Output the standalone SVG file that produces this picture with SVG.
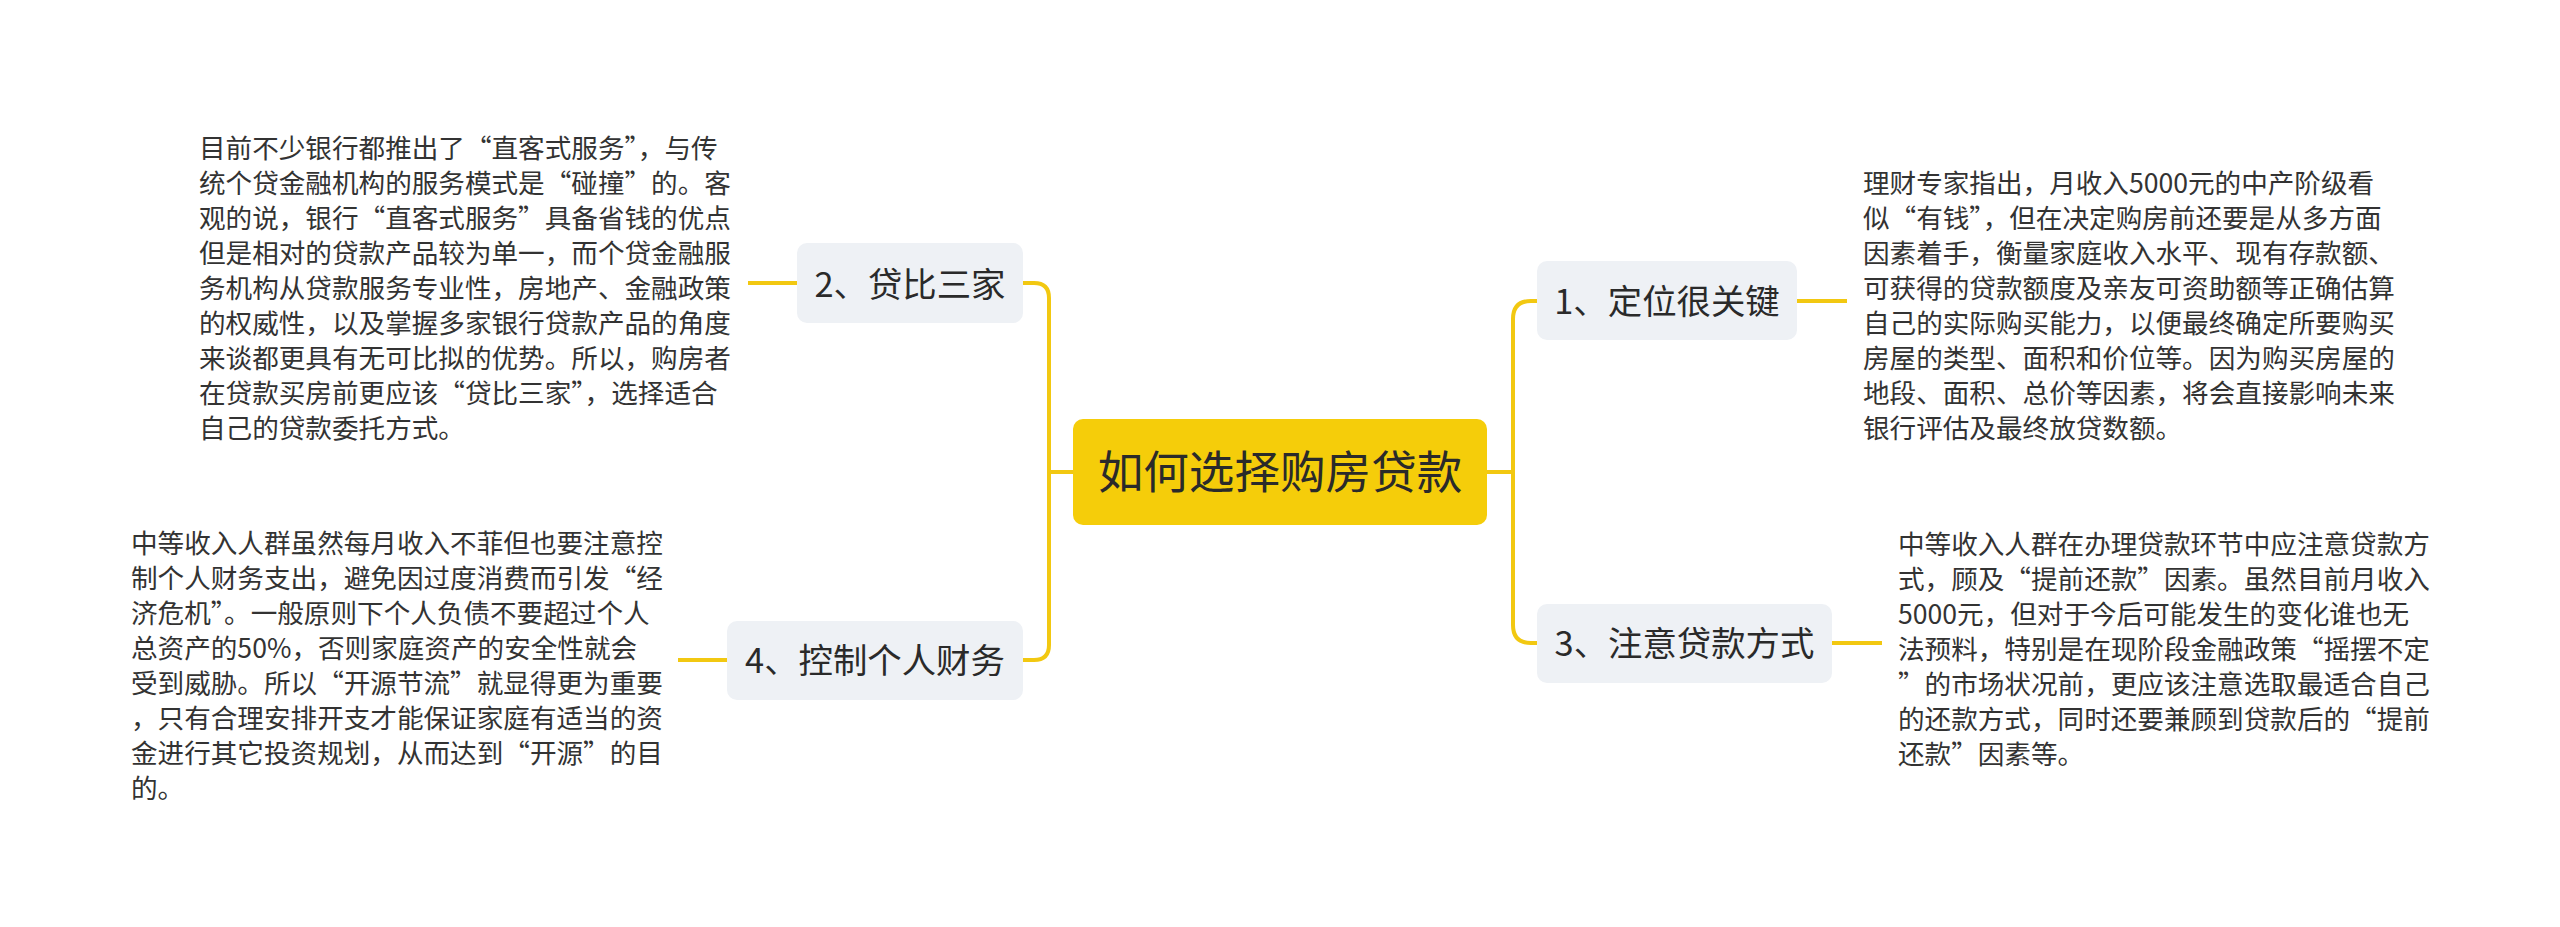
<svg xmlns="http://www.w3.org/2000/svg" width="2560" height="927" viewBox="0 0 2560 927">
<style>
.t{font-family:"Noto Sans CJK SC","Noto Sans",sans-serif;fill:#333333;font-size:26.6px}
.lbl{font-family:"Noto Sans CJK SC","Noto Sans",sans-serif;fill:#2a2a2a;font-size:34.4px;text-anchor:middle}
.ctr{font-family:"Noto Sans CJK SC","Noto Sans",sans-serif;fill:#2a2a2a;font-size:45.6px;text-anchor:middle}
.node{fill:#EEF1F5}
.root{fill:#F5CD0A}
.con{fill:none;stroke:#F2C811;stroke-width:4;stroke-linecap:butt}
</style>
<rect width="2560" height="927" fill="#ffffff"/>
<g id="connectors">
<path class="con" d="M1073,472 H1049"/>
<path class="con" d="M1023,283 H1034 Q1049,283 1049,298 V645 Q1049,660 1034,660 H1023"/>
<path class="con" d="M797,283 H748"/>
<path class="con" d="M727,660 H678"/>
<path class="con" d="M1487,472 H1513"/>
<path class="con" d="M1537,301 H1531 Q1513,301 1513,319 V625 Q1513,643 1531,643 H1537"/>
<path class="con" d="M1797,301 H1847"/>
<path class="con" d="M1832,643 H1882"/>
</g>
<g id="root">
<rect class="root" x="1073" y="419" width="414" height="106" rx="10"/>
<text class="ctr" x="1280" y="488.6">如何选择购房贷款</text>
</g>
<g id="node1">
<rect class="node" x="1537" y="261" width="260" height="79" rx="10"/>
<text class="lbl" x="1667" y="313.5">1、定位很关键</text>
</g>
<g id="node1-text">
<text class="t" x="1863" y="192.7">理财专家指出，月收入5000元的中产阶级看</text>
<text class="t" x="1863" y="227.7">似“有钱”，但在决定购房前还要是从多方面</text>
<text class="t" x="1863" y="262.7">因素着手，衡量家庭收入水平、现有存款额、</text>
<text class="t" x="1863" y="297.7">可获得的贷款额度及亲友可资助额等正确估算</text>
<text class="t" x="1863" y="332.7">自己的实际购买能力，以便最终确定所要购买</text>
<text class="t" x="1863" y="367.7">房屋的类型、面积和价位等。因为购买房屋的</text>
<text class="t" x="1863" y="402.7">地段、面积、总价等因素，将会直接影响未来</text>
<text class="t" x="1863" y="437.7">银行评估及最终放贷数额。</text>
</g>
<g id="node2">
<rect class="node" x="797" y="243" width="226" height="80" rx="10"/>
<text class="lbl" x="910" y="296.5">2、贷比三家</text>
</g>
<g id="node2-text">
<text class="t" x="199" y="157.7">目前不少银行都推出了“直客式服务”，与传</text>
<text class="t" x="199" y="192.7">统个贷金融机构的服务模式是“碰撞”的。客</text>
<text class="t" x="199" y="227.7">观的说，银行“直客式服务”具备省钱的优点</text>
<text class="t" x="199" y="262.7">但是相对的贷款产品较为单一，而个贷金融服</text>
<text class="t" x="199" y="297.7">务机构从贷款服务专业性，房地产、金融政策</text>
<text class="t" x="199" y="332.7">的权威性，以及掌握多家银行贷款产品的角度</text>
<text class="t" x="199" y="367.7">来谈都更具有无可比拟的优势。所以，购房者</text>
<text class="t" x="199" y="402.7">在贷款买房前更应该“贷比三家”，选择适合</text>
<text class="t" x="199" y="437.7">自己的贷款委托方式。</text>
</g>
<g id="node3">
<rect class="node" x="1537" y="604" width="295" height="79" rx="10"/>
<text class="lbl" x="1684.5" y="655.5">3、注意贷款方式</text>
</g>
<g id="node3-text">
<text class="t" x="1898" y="553.7">中等收入人群在办理贷款环节中应注意贷款方</text>
<text class="t" x="1898" y="588.7">式，顾及“提前还款”因素。虽然目前月收入</text>
<text class="t" x="1898" y="623.7">5000元，但对于今后可能发生的变化谁也无</text>
<text class="t" x="1898" y="658.7">法预料，特别是在现阶段金融政策“摇摆不定</text>
<text class="t" x="1898" y="693.7">”的市场状况前，更应该注意选取最适合自己</text>
<text class="t" x="1898" y="728.7">的还款方式，同时还要兼顾到贷款后的“提前</text>
<text class="t" x="1898" y="763.7">还款”因素等。</text>
</g>
<g id="node4">
<rect class="node" x="727" y="621" width="296" height="79" rx="10"/>
<text class="lbl" x="875" y="672.5">4、控制个人财务</text>
</g>
<g id="node4-text">
<text class="t" x="131" y="553">中等收入人群虽然每月收入不菲但也要注意控</text>
<text class="t" x="131" y="588">制个人财务支出，避免因过度消费而引发“经</text>
<text class="t" x="131" y="623">济危机”。一般原则下个人负债不要超过个人</text>
<text class="t" x="131" y="658">总资产的50%，否则家庭资产的安全性就会</text>
<text class="t" x="131" y="693">受到威胁。所以“开源节流”就显得更为重要</text>
<text class="t" x="131" y="728">，只有合理安排开支才能保证家庭有适当的资</text>
<text class="t" x="131" y="763">金进行其它投资规划，从而达到“开源”的目</text>
<text class="t" x="131" y="798">的。</text>
</g>
</svg>
